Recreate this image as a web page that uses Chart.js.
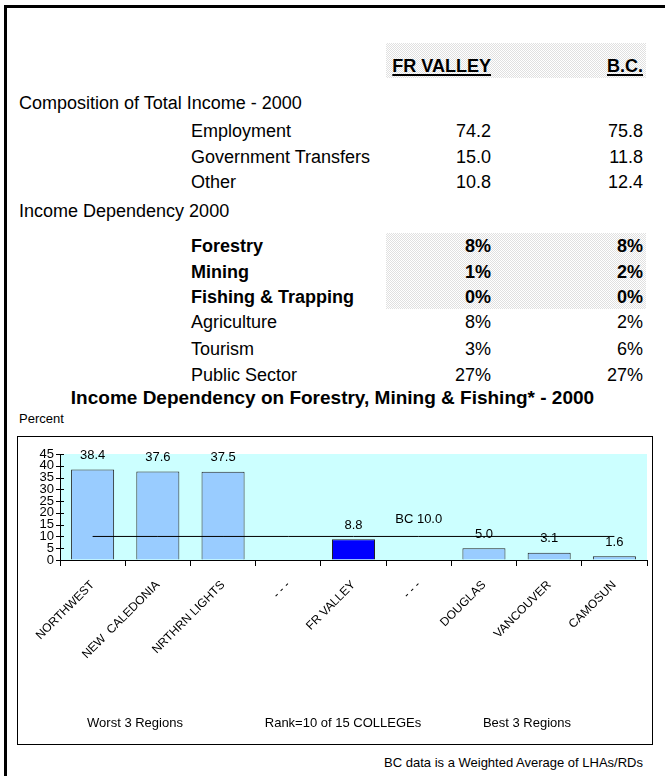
<!DOCTYPE html>
<html>
<head>
<meta charset="utf-8">
<script src="https://cdn.jsdelivr.net/npm/chart.js@4/dist/chart.umd.min.js"></script>
<style>
  body { margin: 0; background: #fff; font-family: "Liberation Sans", Arial, sans-serif; color: #000; }
  #page { position: relative; width: 665px; height: 776px; overflow: hidden; }
  .frameL { position: absolute; left: 4px; top: 5px; width: 3px; height: 771px; background: #000; }
  .frameT { position: absolute; left: 4px; top: 5px; width: 661px; height: 3px; background: #000; }
  .hatch { position: absolute; background: repeating-conic-gradient(#e0e0e0 0 25%, #fff 0 50%) 0 0 / 2px 2px; }
  .t { position: absolute; font-size: 18px; line-height: 20px; white-space: nowrap; }
  .s { position: absolute; font-size: 13px; line-height: 16px; white-space: nowrap; }
  .b { font-weight: bold; }
  .u { text-decoration: underline; text-underline-offset: 2px; text-decoration-thickness: 2px; }
  #box { position: absolute; left: 17px; top: 436px; width: 634px; height: 307px; border: 1px solid #000; }
</style>
</head>
<body>
<div id="page">
  <div class="frameL"></div>
  <div class="frameT"></div>
  <div class="hatch" style="left:386px;top:43px;width:260px;height:35px"></div>
  <div class="hatch" style="left:386px;top:233px;width:260px;height:76px"></div>
  <div id="table"></div>
  <div class="t b" style="left:0;width:665px;text-align:center;top:387px;font-size:19px;line-height:22px">Income Dependency on Forestry, Mining &amp; Fishing* - 2000</div>
  <div class="s" style="left:19px;top:411px">Percent</div>
  <div id="box"><canvas id="depChart" width="634" height="307"></canvas></div>
  <div id="groups"></div>
  <div class="s" style="right:22px;top:755px">BC data is a Weighted Average of LHAs/RDs</div>
</div>
<script>
// tablo verileri
const columnHeads = ['FR VALLEY', 'B.C.'];
const compLabels = ['Employment', 'Government Transfers', 'Other'];
const compFR = ['74.2', '15.0', '10.8'];
const compBC = ['75.8', '11.8', '12.4'];
const depLabels = ['Forestry', 'Mining', 'Fishing & Trapping', 'Agriculture', 'Tourism', 'Public Sector'];
const depFR = [8, 1, 0, 8, 3, 27];
const depBC = [8, 2, 0, 2, 6, 27];
const depBold = [true, true, true, false, false, false];

// grafik verileri
const colleges = ['NORTHWEST', 'NEW  CALEDONIA', 'NRTHRN LIGHTS', '- - -', 'FR VALLEY', '- - -', 'DOUGLAS', 'VANCOUVER', 'CAMOSUN'];
const incomeDep = [38.4, 37.6, 37.5, null, 8.8, null, 5.0, 3.1, 1.6];
const bcAverage = [10.0, 10.0, 10.0, 10.0, 10.0, 10.0, 10.0, 10.0, 10.0];
const bcLabel = 'BC 10.0';
const groupLabels = ['Worst 3 Regions', 'Rank=10 of 15 COLLEGEs', 'Best 3 Regions'];

(function () {
    const table = document.getElementById('table');
    const add = (html, cls, style) => {
        const d = document.createElement('div');
        d.className = cls;
        d.style.cssText = style;
        d.textContent = html;
        table.appendChild(d);
    };
    const row = (y) => 'top:' + (y - 10) + 'px;';

    add(columnHeads[0], 't b u', row(66) + 'right:174px');
    add(columnHeads[1], 't b u', row(66) + 'right:22px');
    add('Composition of Total Income - 2000', 't', row(103) + 'left:19px');

    const compY = [131, 157, 182];
    compLabels.forEach((lab, i) => {
        add(lab, 't', row(compY[i]) + 'left:191px');
        add(compFR[i], 't', row(compY[i]) + 'right:174px');
        add(compBC[i], 't', row(compY[i]) + 'right:22px');
    });

    add('Income Dependency 2000', 't', row(211) + 'left:19px');
    const depY = [246, 272, 297, 322, 349, 375];
    depLabels.forEach((lab, i) => {
        const c = depBold[i] ? 't b' : 't';
        add(lab, c, row(depY[i]) + 'left:191px');
        add(depFR[i] + '%', c, row(depY[i]) + 'right:174px');
        add(depBC[i] + '%', c, row(depY[i]) + 'right:22px');
    });

    // alt grup başlıkları
    const groups = document.getElementById('groups');
    const gx = [135, 343, 527];
    groupLabels.forEach((g, i) => {
        const d = document.createElement('div');
        d.className = 's';
        d.style.cssText = 'top:715px;left:' + (gx[i] - 100) + 'px;width:200px;text-align:center';
        d.textContent = g;
        groups.appendChild(d);
    });

    // çizim alanı arka planı + değer etiketleri
    const decor = {
        id: 'decor',
        beforeDraw(chart) {
            const a = chart.chartArea, c = chart.ctx;
            c.save();
            c.fillStyle = '#CCFFFF';
            c.fillRect(a.left, a.top, a.right - a.left, a.bottom - a.top);
            c.restore();
        },
        afterDraw(chart) {
            const c = chart.ctx, xs = chart.scales.x, ys = chart.scales.y;
            c.save();
            c.fillStyle = '#000';
            c.font = '13px "Liberation Sans", Arial, sans-serif';
            c.textAlign = 'center';
            c.textBaseline = 'middle';
            incomeDep.forEach((v, i) => {
                if (v === null) return;
                c.fillText(v.toFixed(1), xs.getPixelForValue(i), ys.getPixelForValue(v) - 14);
            });
            c.fillText(bcLabel, xs.getPixelForValue(5), ys.getPixelForValue(bcAverage[5]) - 17);
            // y çentikleri eksenin iki yanına
            c.strokeStyle = '#000';
            c.lineWidth = 1;
            ys.ticks.forEach(t => {
                const y = Math.round(ys.getPixelForValue(t.value)) + 0.5;
                c.beginPath();
                c.moveTo(xs.left - 4, y);
                c.lineTo(xs.left + 4, y);
                c.stroke();
            });
            c.restore();
        }
    };

    const barColors = colleges.map(n => n === 'FR VALLEY' ? '#0000FF' : '#99CCFF');

    new Chart(document.getElementById('depChart'), {
        data: {
            labels: colleges,
            datasets: [
                { type: 'line', data: bcAverage, borderColor: '#000', borderWidth: 1, pointRadius: 0, fill: false, order: 0 },
                { type: 'bar', data: incomeDep, backgroundColor: barColors, borderColor: '#222', borderWidth: 1,
                  categoryPercentage: 1, barPercentage: 0.66, order: 1 }
            ]
        },
        options: {
            responsive: false,
            animation: false,
            layout: { padding: { top: 17, right: 5, left: 0, bottom: 0 } },
            plugins: { legend: { display: false }, tooltip: { enabled: false } },
            scales: {
                x: {
                    offset: true,
                    grid: { offset: true, drawOnChartArea: false, tickLength: 6, color: '#000' },
                    border: { color: '#000' },
                    ticks: { minRotation: 45, maxRotation: 45, autoSkip: false, color: '#000', padding: 12,
                             font: { size: 12, family: '"Liberation Sans", Arial, sans-serif' } },
                    afterFit(s) { s.height = 184; }
                },
                y: {
                    min: 0, max: 45,
                    grid: { drawOnChartArea: false, drawTicks: false },
                    border: { color: '#000' },
                    ticks: { stepSize: 5, autoSkip: false, color: '#000', padding: 6,
                             font: { size: 13, family: '"Liberation Sans", Arial, sans-serif' } },
                    afterFit(s) { s.width = 42; }
                }
            }
        },
        plugins: [decor]
    });
})();
</script>
</body>
</html>
